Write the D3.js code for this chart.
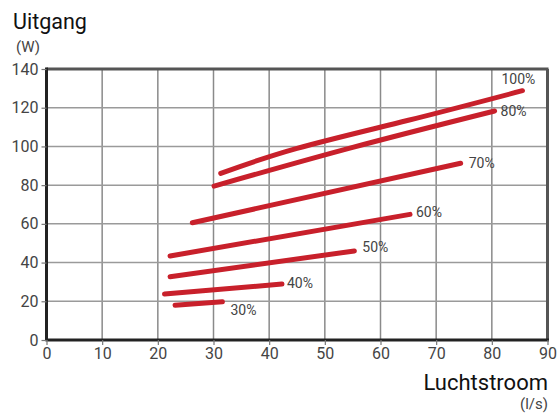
<!DOCTYPE html>
<html><head><meta charset="utf-8">
<script src="https://cdn.jsdelivr.net/npm/d3@7/dist/d3.min.js"></script>
<style>body{margin:0;background:#fff}svg{display:block}</style>
</head><body><svg id="c" width="560" height="414"></svg>
<script>
const xTicks = [0,10,20,30,40,50,60,70,80,90];
const yTicks = [0,20,40,60,80,100,120,140];
const seriesNames = ["100%","80%","70%","60%","50%","40%","30%"];
const s100x = [31.3,45,65,85.5];
const s100y = [86.1,99,113.5,128.8];
const s80x = [30.1,55,80.5];
const s80y = [79.5,99.5,118.3];
const s70x = [26.2,74.4];
const s70y = [60.6,91.3];
const s60x = [22.2,65.3];
const s60y = [43.4,64.9];
const s50x = [22.2,55.3];
const s50y = [32.7,46];
const s40x = [21.2,42.3];
const s40y = [23.8,28.9];
const s30x = [23.1,31.6];
const s30y = [17.9,19.8];

const xs=[s100x,s80x,s70x,s60x,s50x,s40x,s30x], ys=[s100y,s80y,s70y,s60y,s50y,s40y,s30y];
const labelOff=[[-21,-12],[6,0],[8,0],[6,-2],[8,-4],[5,-1],[8,8]];

const svg=d3.select("#c");
const font="Roboto, 'Noto Sans', sans-serif";
const x=d3.scaleLinear().domain([0,90]).range([46.5,547.5]);
const y=d3.scaleLinear().domain([0,140]).range([340,69]);

svg.append("g").selectAll("line").data(xTicks.slice(1,-1)).join("line")
 .attr("x1",d=>x(d)).attr("x2",d=>x(d)).attr("y1",y(140)).attr("y2",y(0))
 .attr("stroke","#8a8a8a").attr("stroke-width",1.5);
svg.append("g").selectAll("line").data(yTicks.slice(1,-1)).join("line")
 .attr("x1",x(0)).attr("x2",x(90)).attr("y1",d=>y(d)).attr("y2",d=>y(d))
 .attr("stroke","#9a9a9a").attr("stroke-width",1.5);
svg.append("line").attr("x1",x(0)).attr("x2",x(90)+1).attr("y1",y(140)).attr("y2",y(140)).attr("stroke","#555").attr("stroke-width",3);
svg.append("line").attr("x1",x(90)).attr("x2",x(90)).attr("y1",y(140)).attr("y2",y(0)).attr("stroke","#555").attr("stroke-width",3);

const ga=svg.append("g").attr("transform",`translate(0,${y(0)})`)
 .call(d3.axisBottom(x).tickValues(xTicks).tickSize(5).tickPadding(3));
const gl=svg.append("g").attr("transform",`translate(${x(0)},0)`)
 .call(d3.axisLeft(y).tickValues(yTicks).tickSize(5).tickPadding(3));
[ga,gl].forEach(g=>{
 g.select(".domain").attr("stroke","#222").attr("stroke-width",3);
 g.selectAll(".tick line").attr("stroke","#777").attr("stroke-width",1.2);
 g.selectAll("text").attr("font-family",font).attr("font-size",16).attr("fill","#444");
});
ga.select(".domain").attr("d",`M${x(0)-1},0H${x(90)+1.5}`);
gl.select(".domain").attr("d",`M0,${y(140)-1.5}V${y(0)}`);

const line=d3.line().x(d=>x(d[0])).y(d=>y(d[1])).curve(d3.curveNatural);
seriesNames.forEach((n,i)=>{
 const pts=xs[i].map((v,j)=>[v,ys[i][j]]);
 svg.append("path").attr("d",line(pts)).attr("fill","none")
  .attr("stroke","#c8202b").attr("stroke-width",5).attr("stroke-linecap","round");
 const last=pts[pts.length-1];
 svg.append("text").attr("x",x(last[0])+labelOff[i][0]).attr("y",y(last[1])+labelOff[i][1])
  .attr("dy","0.35em").attr("font-family",font).attr("font-size",14).attr("fill","#444").text(n);
});

svg.append("text").attr("x",13).attr("y",29).attr("font-family",font).attr("font-size",21.5).attr("fill","#111").text("Uitgang");
svg.append("text").attr("x",16).attr("y",52).attr("font-family",font).attr("font-size",15).attr("fill","#444").text("(W)");
svg.append("text").attr("x",548).attr("y",390).attr("text-anchor","end").attr("font-family",font).attr("font-size",22).attr("fill","#111").text("Luchtstroom");
svg.append("text").attr("x",548).attr("y",409).attr("text-anchor","end").attr("font-family",font).attr("font-size",15).attr("fill","#444").text("(l/s)");
</script></body></html>
